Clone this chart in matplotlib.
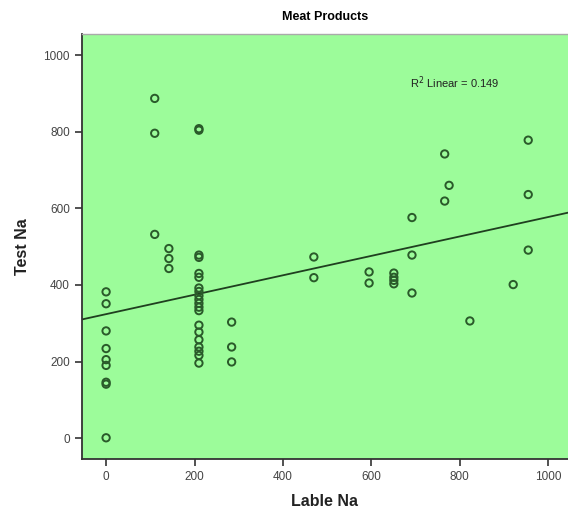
import numpy as np
import matplotlib.pyplot as plt

plt.rcParams['font.family'] = ['Liberation Sans', 'DejaVu Sans']

# -----------------------------
# Datos
# -----------------------------
lable_na = (
    [0] * 9
    + [110] * 3
    + [142] * 3
    + [210] * 20
    + [284] * 3
    + [470] * 2
    + [595] * 2
    + [651] * 4
    + [692] * 3
    + [766] * 2
    + [776]
    + [823]
    + [921]
    + [955] * 3
)
test_na = (
    [382, 351, 280, 234, 205, 190, 146, 141, 1]
    + [887, 796, 532]
    + [495, 469, 443]
    + [808, 804, 478, 472, 430, 420, 392, 383, 372, 362, 352, 342, 333,
       295, 277, 257, 238, 227, 216, 196]
    + [303, 238, 199]
    + [473, 419]
    + [434, 405]
    + [431, 420, 412, 403]
    + [576, 478, 379]
    + [742, 619]
    + [660]
    + [306]
    + [401]
    + [778, 636, 491]
)
r2_text = "R$^2$ Linear = 0.149"

x = np.array(lable_na, dtype=float)
y = np.array(test_na, dtype=float)

# recta de regresión lineal
slope, intercept = np.polyfit(x, y, 1)

# -----------------------------
# Gráfica
# -----------------------------
fig = plt.figure(figsize=(5.68, 5.16), dpi=100)
ax = fig.add_axes([0.144, 0.110, 0.856, 0.824])
ax.set_facecolor("#9cfc9a")

ax.scatter(x, y, s=28, facecolors="none", edgecolors="#2a5a2a",
           linewidths=1.4, zorder=3)

xl = np.array([-55, 1045])
ax.plot(xl, intercept + slope * xl, color="#1f3f1f", lw=1.3, zorder=2)

ax.set_xlim(-55, 1045)
ax.set_ylim(-55, 1055)
ax.set_xticks([0, 200, 400, 600, 800, 1000])
ax.set_yticks([0, 200, 400, 600, 800, 1000])
ax.tick_params(direction="out", length=5, width=1.2, color="#333333",
               labelsize=8.5, labelcolor="#444444")

for s in ["left", "bottom"]:
    ax.spines[s].set_color("#333333")
    ax.spines[s].set_linewidth(1.3)
ax.spines["top"].set_color("#aaaaaa")
ax.spines["top"].set_linewidth(1.0)
ax.spines["right"].set_visible(False)

ax.set_title("Meat Products", fontsize=9, fontweight="bold", pad=10)
ax.set_xlabel("Lable Na", fontsize=11.5, fontweight="bold", labelpad=8,
              color="#222222")
ax.set_ylabel("Test Na", fontsize=11.5, fontweight="bold", labelpad=10,
              color="#222222")

ax.text(0.675, 0.885, r2_text, transform=ax.transAxes, fontsize=8,
        color="#222222", va="center", ha="left")

plt.savefig("out.png", dpi=100)
plt.close()
